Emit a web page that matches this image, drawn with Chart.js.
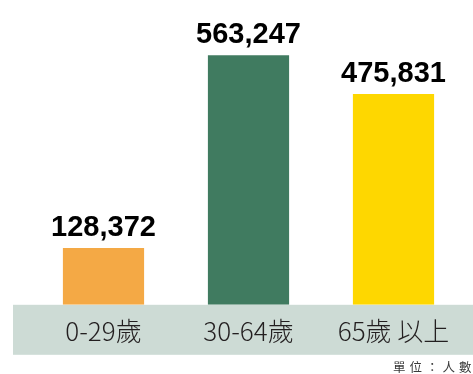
<!DOCTYPE html>
<html>
<head>
<meta charset="utf-8">
<script src="https://cdn.jsdelivr.net/npm/chart.js@4"></script>
<style>
  html, body { margin: 0; padding: 0; background: #fff; }
  #wrap { width: 473px; height: 374px; position: relative; }
</style>
</head>
<body>
<div id="wrap"><canvas id="barchart"></canvas></div>
<script>
// population by age group
var ageGroups = ["0-29歲", "30-64歲", "65歲 以上"];
var population = [128372, 563247, 475831];
var barColors = ["#f4a945", "#407b60", "#fed700"];
var unitText = "單位：人數";

// grey-green band behind the category labels + unit note
const bandPlugin = {
    id: "band",
    beforeDraw(chart) {
        const ctx = chart.ctx;
        const area = chart.chartArea;
        ctx.save();
        ctx.fillStyle = "#cddbd5";
        ctx.fillRect(13, area.bottom, chart.width - 13, 50);
        ctx.restore();
    },
    afterDraw(chart) {
        const ctx = chart.ctx;
        const area = chart.chartArea;
        ctx.save();
        ctx.fillStyle = "#3a3a3a";
        ctx.font = "12.5px 'Noto Sans CJK TC'";
        ctx.letterSpacing = "4px";
        ctx.textBaseline = "alphabetic";
        ctx.fillText(unitText, 393, area.bottom + 67);
        ctx.restore();
    }
};

// value printed above each bar
const valueLabels = {
    id: "valueLabels",
    afterDatasetsDraw(chart) {
        const ctx = chart.ctx;
        const meta = chart.getDatasetMeta(0);
        ctx.save();
        ctx.fillStyle = "#000";
        ctx.font = "bold 29px 'Liberation Sans', Arial, sans-serif";
        ctx.textAlign = "center";
        ctx.textBaseline = "alphabetic";
        meta.data.forEach((bar, i) => {
            const v = chart.data.datasets[0].data[i];
            ctx.fillText(v.toLocaleString("en-US"), bar.x, bar.y - 12);
        });
        ctx.restore();
    }
};

const ctx = document.getElementById("barchart").getContext("2d");

const config = {
    type: "bar",
    data: {
        labels: ageGroups,
        datasets: [
            {
                label: "人數",
                data: population,
                backgroundColor: barColors,
                categoryPercentage: 1,
                barPercentage: 0.56,
            },
        ],
    },
    options: {
        responsive: true,
        maintainAspectRatio: false,
        animation: false,
        layout: {
            padding: { left: 31, right: 7, top: 0, bottom: 16 }
        },
        scales: {
            x: {
                grid: { display: false, drawTicks: false },
                border: { display: false },
                ticks: {
                    padding: 11,
                    color: "#231f20",
                    font: { family: "'Noto Sans CJK TC'", size: 26, weight: 300 }
                }
            },
            y: {
                display: false,
                min: 0,
                max: 688000
            }
        },
        plugins: {
            legend: { display: false },
            tooltip: { enabled: false }
        }
    },
    plugins: [bandPlugin, valueLabels]
};

new Chart(ctx, config);
</script>
</body>
</html>
